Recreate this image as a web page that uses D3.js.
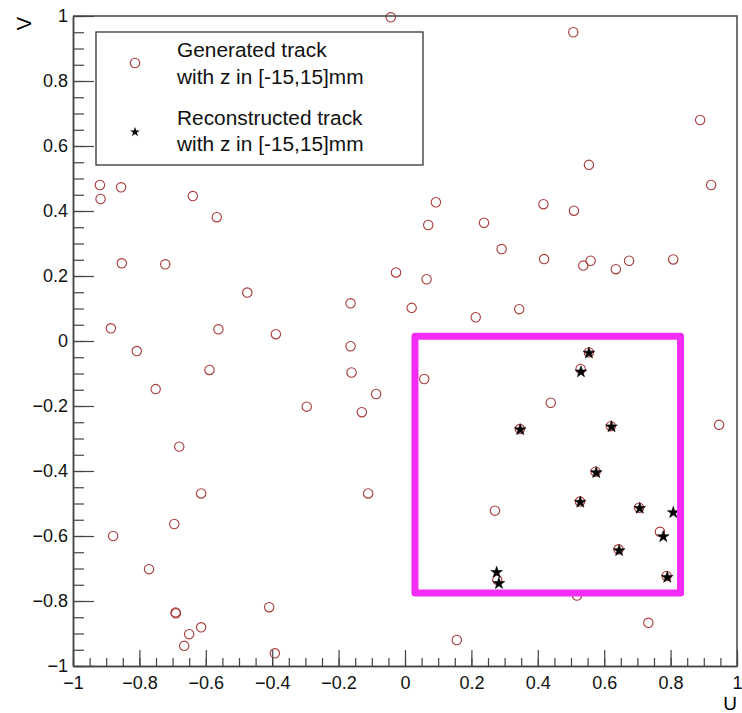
<!DOCTYPE html>
<html>
<head>
<meta charset="utf-8">
<script src="https://cdn.jsdelivr.net/npm/d3@7"></script>
<style>
  body { margin: 0; background: #fff; }
  svg { display: block; font-family: "Liberation Sans", Arial, sans-serif; }
</style>
</head>
<body>
<div id="chart"></div>
<script>
// generated tracks (u, v) - open circles
const generated = [
  [-0.043, 0.996], [0.507, 0.950], [0.889, 0.680], [0.554, 0.542], [0.922, 0.480],
  [0.509, 0.401], [0.537, 0.232], [0.559, 0.247], [0.635, 0.221], [0.675, 0.247],
  [0.808, 0.251], [0.417, 0.421], [0.238, 0.364], [0.291, 0.283], [0.419, 0.252],
  [0.344, 0.098], [0.213, 0.073], [0.093, 0.427], [0.070, 0.357], [-0.027, 0.211],
  [0.065, 0.190], [0.020, 0.102], [0.058, -0.117], [-0.919, 0.480], [-0.917, 0.437],
  [-0.855, 0.473], [-0.639, 0.446], [-0.567, 0.381], [-0.853, 0.239], [-0.722, 0.236],
  [-0.475, 0.149], [-0.164, 0.116], [-0.886, 0.039], [-0.562, 0.036], [-0.389, 0.021],
  [-0.808, -0.031], [-0.164, -0.016], [-0.589, -0.089], [-0.751, -0.148], [-0.161, -0.097],
  [-0.087, -0.163], [-0.130, -0.219], [-0.296, -0.202], [-0.680, -0.325], [-0.614, -0.469],
  [-0.111, -0.469], [-0.695, -0.563], [-0.879, -0.600], [-0.771, -0.702], [-0.409, -0.819],
  [-0.691, -0.835], [-0.690, -0.838], [-0.614, -0.881], [-0.650, -0.902], [-0.665, -0.938],
  [-0.392, -0.961], [0.156, -0.920], [0.733, -0.867], [0.518, -0.783], [0.946, -0.258],
  [0.439, -0.190], [0.271, -0.522],
  [0.554, -0.035], [0.529, -0.086], [0.346, -0.271], [0.620, -0.262], [0.574, -0.402],
  [0.527, -0.494], [0.705, -0.513], [0.768, -0.587], [0.643, -0.641], [0.788, -0.723],
  [0.278, -0.735]
];

// reconstructed tracks (u, v) - black stars
const reconstructed = [
  [0.554, -0.037], [0.530, -0.095], [0.347, -0.273], [0.622, -0.264], [0.576, -0.405],
  [0.528, -0.496], [0.707, -0.515], [0.808, -0.528], [0.778, -0.602], [0.645, -0.645],
  [0.790, -0.727], [0.276, -0.712], [0.283, -0.746]
];

// highlighted region corners (u, v)
const boxCorners = [[0.030, 0.015], [0.830, -0.775]];

const uTicks = [-1, -0.8, -0.6, -0.4, -0.2, 0, 0.2, 0.4, 0.6, 0.8, 1];
const vTicks = [-1, -0.8, -0.6, -0.4, -0.2, 0, 0.2, 0.4, 0.6, 0.8, 1];
const legendLines = [
  ["Generated track", "with z in [-15,15]mm"],
  ["Reconstructed track", "with z in [-15,15]mm"]
];

const margin = {top: 16, right: 5, bottom: 47, left: 73},
      width = 742 - margin.left - margin.right,
      height = 713 - margin.top - margin.bottom;

const root = d3.select("#chart")
               .append("svg")
               .attr("width", 742)
               .attr("height", 713);

const svg = root.append("g")
                .attr("transform", "translate(" + margin.left + "," + margin.top + ")");

const x = d3.scaleLinear().domain([-1, 1]).range([0, width]);
const y = d3.scaleLinear().domain([-1, 1]).range([height, 0]);

const minor = d3.range(-20, 21).map(i => i / 20);
const axisColor = "#444";

// points
svg.selectAll(".gen")
   .data(generated)
   .enter()
   .append("circle")
   .attr("class", "gen")
   .attr("cx", d => x(d[0]))
   .attr("cy", d => y(d[1]))
   .attr("r", 4.7)
   .attr("fill", "none")
   .attr("stroke", "#a83a3a")
   .attr("stroke-width", 1.1);

const star = d3.symbol().type(d3.symbolStar).size(42);

svg.selectAll(".rec")
   .data(reconstructed)
   .enter()
   .append("path")
   .attr("class", "rec")
   .attr("transform", d => "translate(" + x(d[0]) + "," + y(d[1]) + ")")
   .attr("d", star)
   .attr("fill", "#000")
   .attr("stroke", "#000")
   .attr("stroke-width", 0.6);

// magenta box
svg.append("rect")
   .attr("x", x(boxCorners[0][0]))
   .attr("y", y(boxCorners[0][1]))
   .attr("width", x(boxCorners[1][0]) - x(boxCorners[0][0]))
   .attr("height", y(boxCorners[1][1]) - y(boxCorners[0][1]))
   .attr("fill", "none")
   .attr("stroke", "#f52cf5")
   .attr("stroke-width", 7)
   .attr("stroke-linejoin", "round");

// axes
const styleAxis = g => {
  g.select(".domain").attr("stroke", axisColor).attr("stroke-width", 1.5);
  g.selectAll(".tick line").attr("stroke", axisColor).attr("stroke-width", 1.2);
  g.selectAll(".tick text").attr("fill", "#111").style("font-size", "18px");
};

svg.append("g")
   .attr("transform", "translate(0," + height + ")")
   .call(d3.axisBottom(x).tickValues(minor).tickSize(-8).tickFormat("").tickSizeOuter(0))
   .call(styleAxis);

svg.append("g")
   .attr("transform", "translate(0," + height + ")")
   .call(d3.axisBottom(x).tickValues(uTicks).tickSize(-16).tickPadding(10)
           .tickFormat(d3.format("~g")).tickSizeOuter(0))
   .call(styleAxis);

svg.append("g")
   .call(d3.axisLeft(y).tickValues(minor).tickSize(-11).tickFormat("").tickSizeOuter(0))
   .call(styleAxis);

svg.append("g")
   .call(d3.axisLeft(y).tickValues(vTicks).tickSize(-21).tickPadding(5)
           .tickFormat(d3.format("~g")).tickSizeOuter(0))
   .call(styleAxis);

// top and right frame
svg.append("path")
   .attr("d", "M0,0H" + width + "V" + height)
   .attr("fill", "none")
   .attr("stroke", axisColor)
   .attr("stroke-width", 1.5);

// axis titles
svg.append("text")
   .attr("x", width)
   .attr("y", height + 44)
   .attr("text-anchor", "end")
   .style("font-size", "19px")
   .text("U");

svg.append("text")
   .attr("transform", "translate(" + (-42) + ",1) rotate(-90)")
   .attr("text-anchor", "end")
   .style("font-size", "20px")
   .text("V");

// legend
const legend = root.append("g").attr("transform", "translate(96,32)");

legend.append("rect")
      .attr("width", 327)
      .attr("height", 133)
      .attr("fill", "#fff")
      .attr("stroke", "#333")
      .attr("stroke-width", 1.3);

legend.append("circle")
      .attr("cx", 39)
      .attr("cy", 31)
      .attr("r", 4.7)
      .attr("fill", "none")
      .attr("stroke", "#a83a3a")
      .attr("stroke-width", 1.1);

legend.append("path")
      .attr("transform", "translate(39,100)")
      .attr("d", d3.symbol().type(d3.symbolStar).size(30))
      .attr("fill", "#000");

legendLines.forEach((lines, i) => {
  lines.forEach((t, j) => {
    legend.append("text")
          .attr("transform", "translate(81," + (25 + i * 67.5 + j * 26.5) + ") scale(1.07,1)")
          .style("font-size", "19.5px")
          .attr("fill", "#111")
          .text(t);
  });
});
</script>
</body>
</html>
